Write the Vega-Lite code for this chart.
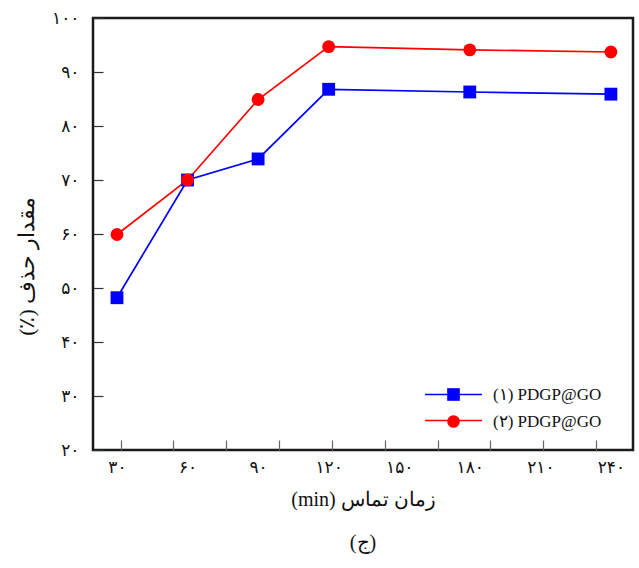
{
  "$schema": "https://vega.github.io/schema/vega-lite/v6.json",
  "width": 540,
  "height": 432,
  "autosize": "none",
  "padding": {"left": 93, "top": 18, "right": 6, "bottom": 118},
  "background": "white",
  "title": {"text": "(ج)", "orient": "bottom", "offset": 24, "fontSize": 20, "font": "Liberation Serif", "fontWeight": "normal", "color": "#111"},
  "data": {
    "values": [
      {"time": 30, "removal": 48.2, "series": "(۱) PDGP@GO"},
      {"time": 60, "removal": 70.0, "series": "(۱) PDGP@GO"},
      {"time": 90, "removal": 73.9, "series": "(۱) PDGP@GO"},
      {"time": 120, "removal": 86.8, "series": "(۱) PDGP@GO"},
      {"time": 180, "removal": 86.3, "series": "(۱) PDGP@GO"},
      {"time": 240, "removal": 85.9, "series": "(۱) PDGP@GO"},
      {"time": 30, "removal": 59.9, "series": "(۲) PDGP@GO"},
      {"time": 60, "removal": 70.0, "series": "(۲) PDGP@GO"},
      {"time": 90, "removal": 84.9, "series": "(۲) PDGP@GO"},
      {"time": 120, "removal": 94.7, "series": "(۲) PDGP@GO"},
      {"time": 180, "removal": 94.1, "series": "(۲) PDGP@GO"},
      {"time": 240, "removal": 93.7, "series": "(۲) PDGP@GO"}
    ]
  },
  "layer": [
    {
      "mark": {"type": "line", "strokeWidth": 1.7},
      "encoding": {
        "x": {
          "field": "time", "type": "quantitative",
          "scale": {"domain": [19.8, 249.4], "nice": false, "zero": false},
          "axis": {
            "orient": "bottom", "values": [30, 60, 90, 120, 150, 180, 210, 240],
            "ticks": false, "domain": false, "grid": false, "format": "d",
            "labelExpr": "replace(replace(replace(replace(replace(replace(replace(replace(replace(replace(datum.label,/0/g,'۰'),/1/g,'۱'),/2/g,'۲'),/3/g,'۳'),/4/g,'۴'),/5/g,'۵'),/6/g,'۶'),/7/g,'۷'),/8/g,'۸'),/9/g,'۹')",
            "labelPadding": 9, "labelFontSize": 17, "labelColor": "#111", "labelFont": "DejaVu Sans",
            "title": "\u202bزمان تماس (min)\u202c", "titleFont": "Liberation Serif", "titleFontSize": 20, "titleFontWeight": "normal", "titleColor": "#111", "titlePadding": 14
          }
        },
        "y": {
          "field": "removal", "type": "quantitative",
          "scale": {"domain": [20, 100], "nice": false, "zero": false},
          "axis": {
            "orient": "left", "values": [20, 30, 40, 50, 60, 70, 80, 90, 100],
            "ticks": false, "domain": false, "grid": false, "format": "d",
            "labelExpr": "replace(replace(replace(replace(replace(replace(replace(replace(replace(replace(datum.label,/0/g,'۰'),/1/g,'۱'),/2/g,'۲'),/3/g,'۳'),/4/g,'۴'),/5/g,'۵'),/6/g,'۶'),/7/g,'۷'),/8/g,'۸'),/9/g,'۹')",
            "labelPadding": 14, "labelFontSize": 17, "labelColor": "#111", "labelFont": "DejaVu Sans",
            "title": "\u202bمقدار حذف (٪)\u202c", "titleFont": "Liberation Serif", "titleFontSize": 22, "titleFontWeight": "normal", "titleColor": "#111",
            "titleX": -55, "titleY": 248
          }
        },
        "color": {
          "field": "series", "type": "nominal",
          "scale": {"domain": ["(۱) PDGP@GO", "(۲) PDGP@GO"], "range": ["#0000ff", "#ff0000"]},
          "legend": {
            "orient": "none", "legendX": 352, "legendY": 368, "title": null, "padding": 0,
            "labelFont": "Liberation Serif", "labelFontSize": 17, "labelColor": "#111", "labelOpacity": 0, "labelOffset": 31,
            "rowPadding": 8, "symbolSize": 160, "symbolType": "M-4.5,0H4.5", "symbolStrokeWidth": 1.7
          }
        }
      }
    },
    {
      "mark": {"type": "point", "filled": true, "opacity": 1, "size": 165},
      "encoding": {
        "x": {
          "field": "time", "type": "quantitative",
          "axis": {
            "orient": "top", "offset": -432, "values": [31.6, 54.0, 76.5, 98.9, 121.4, 143.8, 166.3, 188.7, 211.2, 233.6],
            "labels": false, "domain": false, "grid": false, "ticks": true, "tickSize": 10, "tickColor": "#666", "tickWidth": 1.2, "title": null
          }
        },
        "y": {
          "field": "removal", "type": "quantitative",
          "axis": {
            "orient": "right", "offset": -540, "values": [20, 30, 40, 50, 60, 70, 80, 90, 100],
            "labels": false, "domain": false, "grid": false, "ticks": true, "tickSize": 10, "tickColor": "#333", "tickWidth": 1.2, "title": null
          }
        },
        "color": {
          "field": "series", "type": "nominal",
          "legend": {
            "orient": "none", "legendX": 352, "legendY": 368, "title": null, "padding": 0,
            "labelFont": "Liberation Serif", "labelFontSize": 17, "labelColor": "#111", "labelOffset": 31,
            "rowPadding": 8, "symbolSize": 160, "symbolOpacity": 1
          }
        },
        "shape": {
          "field": "series", "type": "nominal",
          "scale": {"domain": ["(۱) PDGP@GO", "(۲) PDGP@GO"], "range": ["square", "circle"]},
          "legend": {
            "orient": "none", "legendX": 352, "legendY": 368, "title": null, "padding": 0,
            "labelFont": "Liberation Serif", "labelFontSize": 17, "labelColor": "#111", "labelOffset": 31,
            "rowPadding": 8, "symbolSize": 160, "symbolOpacity": 1
          }
        }
      }
    }
  ],
  "resolve": {"axis": {"x": "independent", "y": "independent"}, "legend": {"color": "independent", "shape": "independent"}},
  "config": {
    "view": {"stroke": "#1a1a1a", "strokeWidth": 2.5},
    "font": "Liberation Serif"
  }
}
